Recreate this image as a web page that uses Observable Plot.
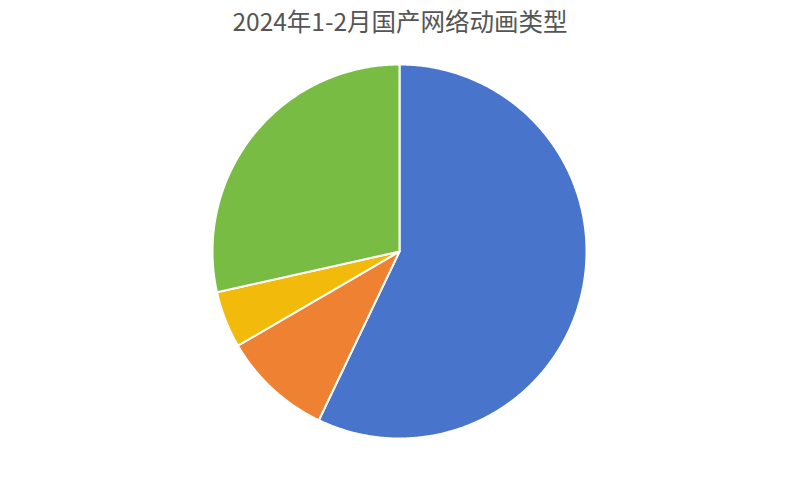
<!DOCTYPE html>
<html><head><meta charset="utf-8">
<script src="https://cdn.jsdelivr.net/npm/d3@7"></script>
<script src="https://cdn.jsdelivr.net/npm/@observablehq/plot@0.6"></script>
<style>
body{margin:0;background:#fff;}
#title{height:44px;line-height:42px;text-align:center;font-family:"Noto Sans CJK SC","Noto Sans",sans-serif;font-size:24.5px;color:#555555;overflow:hidden;}
</style></head>
<body>
<div id="title">2024年1-2月国产网络动画类型</div>
<div id="chart"></div>
<script>
const categories = ["类型一", "类型二", "类型三", "类型四"];
const shares = [57.1, 9.5, 4.9, 28.5];
const colors = ["#4874CB", "#EE8232", "#F2BA0A", "#78BC43"];

const cx = 399, cy = 207, R = 187;
const arcs = d3.pie().sort(null).value(d => d)(shares);
const pts = [];
arcs.forEach((a, i) => {
  const name = categories[i];
  pts.push({k: name, x: 0, y: 0});
  const n = Math.max(2, Math.ceil((a.endAngle - a.startAngle) / 0.01));
  for (let j = 0; j <= n; j++) {
    const t = a.startAngle + (a.endAngle - a.startAngle) * j / n;
    pts.push({k: name, x: Math.sin(t), y: Math.cos(t)});
  }
});

const chart = Plot.plot({
  width: 800, height: 450,
  margin: 0,
  x: {domain: [-1, 1], range: [cx - R, cx + R], axis: null},
  y: {domain: [-1, 1], range: [cy + R, cy - R], axis: null},
  color: {domain: categories, range: colors},
  marks: [
    Plot.line(pts, {x: "x", y: "y", z: "k", fill: "k", stroke: "white", strokeWidth: 2, curve: "linear-closed"})
  ]
});
document.getElementById("chart").appendChild(chart);
</script>
</body></html>
